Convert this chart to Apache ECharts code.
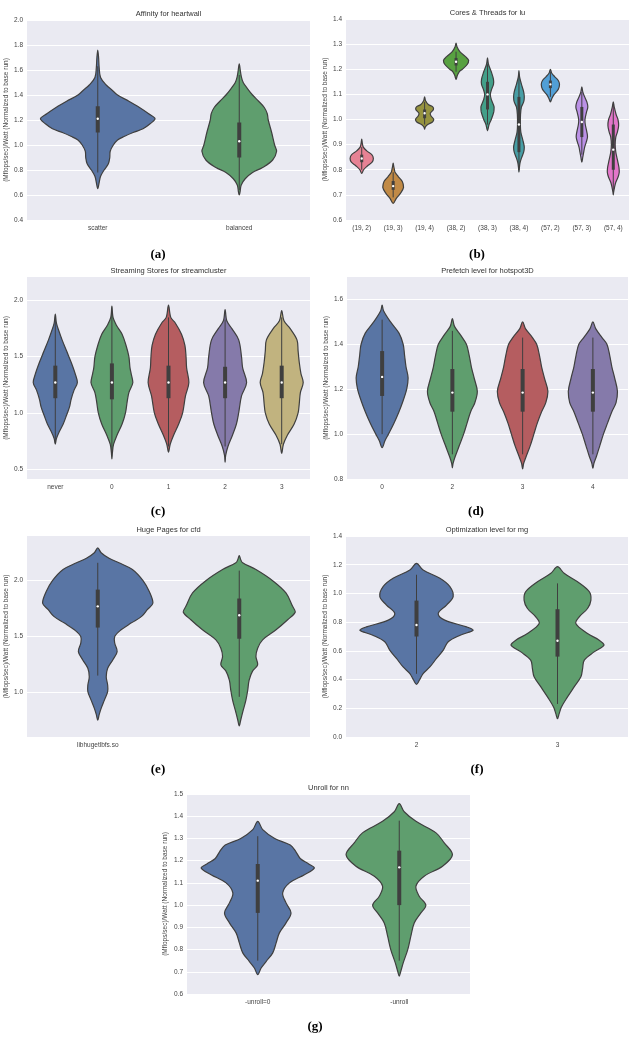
<!DOCTYPE html>
<html><head><meta charset="utf-8">
<script src="https://cdn.jsdelivr.net/npm/echarts@6/dist/echarts.min.js"></script>
<style>html,body{margin:0;padding:0;background:#fff}#c{width:632px;height:1041px}</style>
</head><body><div id="c"></div>
<script>
// ---------- DATA ----------
// profiles: [value, half-width as fraction of category band]; boxes: [whiskerLow, q1, median, q3, whiskerHigh]
const affinityCats = ['scatter', 'balanced'];
const affinityTicks = [0.4, 0.6, 0.8, 1.0, 1.2, 1.4, 1.6, 1.8, 2.0];
const affinityScatter = [[0.65,0],[0.70,0.01],[0.75,0.02],[0.80,0.045],[0.85,0.075],[0.90,0.085],[0.95,0.088],[1.00,0.11],[1.04,0.14],[1.07,0.19],[1.10,0.25],[1.13,0.32],[1.17,0.37],[1.21,0.405],[1.25,0.36],[1.30,0.295],[1.35,0.22],[1.40,0.14],[1.44,0.10],[1.48,0.06],[1.54,0.02],[1.62,0.01],[1.70,0.006],[1.76,0]];
const affinityBalanced = [[0.60,0],[0.62,0.005],[0.68,0.014],[0.73,0.042],[0.78,0.094],[0.82,0.165],[0.88,0.236],[0.95,0.264],[1.00,0.25],[1.10,0.229],[1.20,0.205],[1.25,0.198],[1.30,0.177],[1.35,0.137],[1.40,0.094],[1.45,0.059],[1.50,0.028],[1.55,0.014],[1.60,0.007],[1.65,0]];
const affinityBoxes = [[0.78,1.10,1.21,1.31,1.63],[0.64,0.90,1.03,1.18,1.56]];

const coresCats = ['(19, 2)','(19, 3)','(19, 4)','(38, 2)','(38, 3)','(38, 4)','(57, 2)','(57, 3)','(57, 4)'];
const coresTicks = [0.6, 0.7, 0.8, 0.9, 1.0, 1.1, 1.2, 1.3, 1.4];
const cores19_2 = [[0.785,0],[0.80,0.06],[0.815,0.18],[0.83,0.33],[0.845,0.37],[0.86,0.32],[0.875,0.16],[0.89,0.05],[0.905,0.02],[0.922,0]];
const cores19_3 = [[0.666,0],[0.686,0.1],[0.706,0.23],[0.73,0.33],[0.753,0.29],[0.773,0.16],[0.79,0.06],[0.80,0.04],[0.812,0.02],[0.826,0]];
const cores19_4 = [[0.962,0],[0.97,0.02],[0.98,0.1],[0.99,0.25],[1.0,0.29],[1.015,0.2],[1.025,0.18],[1.04,0.28],[1.05,0.26],[1.06,0.12],[1.075,0.03],[1.09,0]];
const cores38_2 = [[1.16,0],[1.175,0.04],[1.19,0.1],[1.20,0.2],[1.22,0.36],[1.235,0.40],[1.25,0.3],[1.27,0.12],[1.29,0.03],[1.304,0]];
const cores38_3 = [[0.955,0],[0.98,0.05],[1.0,0.12],[1.03,0.2],[1.05,0.21],[1.08,0.12],[1.10,0.09],[1.12,0.13],[1.14,0.19],[1.16,0.19],[1.19,0.12],[1.22,0.03],[1.245,0]];
const cores38_4 = [[0.79,0],[0.81,0.015],[0.83,0.04],[0.85,0.09],[0.87,0.15],[0.89,0.17],[0.92,0.12],[0.95,0.06],[0.98,0.045],[1.02,0.05],[1.05,0.08],[1.07,0.15],[1.09,0.17],[1.11,0.15],[1.14,0.08],[1.17,0.02],[1.195,0]];
const cores57_2 = [[1.07,0],[1.085,0.05],[1.10,0.12],[1.12,0.25],[1.14,0.29],[1.155,0.25],[1.17,0.14],[1.185,0.04],[1.20,0]];
const cores57_3 = [[0.83,0],[0.85,0.03],[0.87,0.06],[0.89,0.09],[0.91,0.14],[0.93,0.18],[0.95,0.16],[0.98,0.11],[1.0,0.1],[1.03,0.15],[1.05,0.19],[1.07,0.16],[1.09,0.09],[1.11,0.03],[1.13,0]];
const cores57_4 = [[0.70,0],[0.71,0.01],[0.73,0.04],[0.75,0.08],[0.77,0.15],[0.79,0.19],[0.81,0.18],[0.84,0.13],[0.87,0.08],[0.90,0.06],[0.93,0.08],[0.95,0.13],[0.975,0.17],[1.0,0.15],[1.02,0.09],[1.05,0.03],[1.07,0]];
const coresBoxes = [[0.80,0.83,0.845,0.86,0.89],[0.69,0.72,0.735,0.755,0.79],[0.98,1.005,1.025,1.04,1.07],[1.19,1.215,1.23,1.245,1.27],[0.98,1.04,1.10,1.15,1.22],[0.80,0.87,0.98,1.09,1.18],[1.09,1.125,1.14,1.155,1.19],[0.86,0.93,0.99,1.05,1.11],[0.72,0.80,0.88,0.98,1.06]];

const streamCats = ['never', '0', '1', '2', '3'];
const streamTicks = [0.5, 1.0, 1.5, 2.0];
const streamNever = [[0.72,0],[0.77,0.02],[0.83,0.07],[0.90,0.14],[0.98,0.20],[1.05,0.25],[1.12,0.28],[1.20,0.33],[1.27,0.39],[1.35,0.35],[1.45,0.28],[1.55,0.20],[1.65,0.12],[1.72,0.07],[1.80,0.02],[1.88,0]];
const stream0 = [[0.59,0],[0.65,0.01],[0.72,0.03],[0.80,0.09],[0.90,0.18],[1.0,0.24],[1.10,0.27],[1.18,0.30],[1.27,0.37],[1.35,0.34],[1.40,0.32],[1.50,0.30],[1.60,0.25],[1.70,0.18],[1.78,0.08],[1.85,0.02],[1.95,0]];
const stream1 = [[0.65,0],[0.72,0.03],[0.80,0.09],[0.90,0.18],[1.0,0.25],[1.15,0.30],[1.27,0.36],[1.40,0.32],[1.50,0.31],[1.60,0.29],[1.70,0.23],[1.80,0.12],[1.85,0.04],[1.96,0]];
const stream2 = [[0.56,0],[0.62,0.01],[0.70,0.05],[0.80,0.13],[0.90,0.20],[1.0,0.24],[1.15,0.29],[1.27,0.38],[1.40,0.31],[1.50,0.29],[1.65,0.24],[1.75,0.12],[1.82,0.03],[1.92,0]];
const stream3 = [[0.64,0],[0.72,0.03],[0.80,0.10],[0.90,0.22],[1.0,0.29],[1.08,0.31],[1.18,0.33],[1.27,0.38],[1.35,0.34],[1.45,0.31],[1.55,0.29],[1.65,0.27],[1.75,0.15],[1.82,0.04],[1.91,0]];
const streamBoxes = [[0.73,1.13,1.27,1.42,1.85],[0.65,1.12,1.27,1.44,1.90],[0.70,1.13,1.27,1.42,1.85],[0.70,1.13,1.27,1.41,1.83],[0.72,1.13,1.27,1.42,1.85]];

const prefetchCats = ['0', '2', '3', '4'];
const prefetchTicks = [0.8, 1.0, 1.2, 1.4, 1.6];
const prefetch0 = [[0.94,0],[0.97,0.04],[1.0,0.09],[1.05,0.17],[1.10,0.24],[1.15,0.30],[1.20,0.35],[1.25,0.37],[1.30,0.34],[1.35,0.32],[1.40,0.30],[1.45,0.24],[1.50,0.12],[1.55,0.02],[1.575,0]];
const prefetch2 = [[0.85,0],[0.87,0.01],[0.90,0.04],[0.95,0.10],[1.0,0.16],[1.05,0.21],[1.10,0.26],[1.14,0.32],[1.19,0.355],[1.25,0.31],[1.30,0.27],[1.35,0.24],[1.40,0.20],[1.44,0.12],[1.48,0.03],[1.515,0]];
const prefetch3 = [[0.845,0],[0.87,0.015],[0.90,0.05],[0.95,0.11],[1.0,0.16],[1.05,0.21],[1.10,0.27],[1.14,0.33],[1.19,0.36],[1.25,0.31],[1.30,0.27],[1.35,0.24],[1.40,0.20],[1.43,0.14],[1.47,0.04],[1.50,0]];
const prefetch4 = [[0.848,0],[0.87,0.015],[0.90,0.05],[0.95,0.10],[1.0,0.15],[1.05,0.21],[1.10,0.27],[1.14,0.33],[1.19,0.35],[1.25,0.31],[1.30,0.27],[1.35,0.24],[1.40,0.20],[1.43,0.13],[1.47,0.04],[1.50,0]];
const prefetchBoxes = [[1.0,1.17,1.255,1.37,1.51],[0.91,1.10,1.185,1.29,1.46],[0.91,1.10,1.185,1.29,1.43],[0.91,1.10,1.185,1.29,1.43]];

const hugeCats = ['libhugetlbfs.so', ''];
const hugeTicks = [1.0, 1.5, 2.0];
const hugeLib = [[0.75,0],[0.80,0.01],[0.856,0.024],[0.93,0.047],[1.006,0.07],[1.066,0.07],[1.14,0.06],[1.215,0.07],[1.29,0.106],[1.365,0.137],[1.44,0.12],[1.50,0.12],[1.56,0.165],[1.62,0.235],[1.68,0.31],[1.74,0.35],[1.80,0.39],[1.90,0.365],[2.0,0.32],[2.10,0.245],[2.16,0.15],[2.20,0.08],[2.25,0.024],[2.293,0]];
const hugeNone = [[0.70,0],[0.75,0.01],[0.84,0.028],[0.93,0.047],[1.02,0.06],[1.11,0.07],[1.19,0.094],[1.245,0.13],[1.32,0.118],[1.395,0.13],[1.47,0.165],[1.56,0.26],[1.65,0.342],[1.72,0.396],[1.77,0.377],[1.89,0.33],[2.0,0.236],[2.10,0.118],[2.16,0.024],[2.19,0.01],[2.225,0]];
const hugeBoxes = [[1.15,1.58,1.77,1.92,2.16],[0.96,1.48,1.69,1.84,2.09]];

const optCats = ['2', '3'];
const optTicks = [0.0, 0.2, 0.4, 0.6, 0.8, 1.0, 1.2, 1.4];
const opt2 = [[0.367,0],[0.395,0.02],[0.442,0.047],[0.488,0.095],[0.547,0.142],[0.605,0.19],[0.663,0.225],[0.709,0.31],[0.744,0.402],[0.767,0.355],[0.814,0.2],[0.86,0.154],[0.919,0.213],[0.977,0.26],[1.047,0.237],[1.105,0.166],[1.163,0.047],[1.209,0]];
const opt3 = [[0.128,0],[0.163,0.012],[0.209,0.028],[0.279,0.071],[0.349,0.118],[0.419,0.166],[0.477,0.178],[0.535,0.19],[0.593,0.26],[0.64,0.33],[0.674,0.296],[0.721,0.213],[0.79,0.13],[0.837,0.154],[0.895,0.213],[0.953,0.237],[1.012,0.225],[1.081,0.142],[1.14,0.047],[1.186,0]];
const optBoxes = [[0.44,0.70,0.78,0.95,1.13],[0.23,0.56,0.67,0.89,1.07]];

const unrollCats = ['-unroll=0', '-unroll'];
const unrollTicks = [0.6, 0.7, 0.8, 0.9, 1.0, 1.1, 1.2, 1.3, 1.4, 1.5];
const unroll0 = [[0.687,0],[0.717,0.024],[0.747,0.06],[0.785,0.106],[0.83,0.13],[0.875,0.153],[0.92,0.2],[0.965,0.235],[1.01,0.2],[1.055,0.176],[1.10,0.224],[1.137,0.33],[1.167,0.40],[1.185,0.36],[1.21,0.30],[1.24,0.27],[1.27,0.23],[1.30,0.12],[1.34,0.035],[1.377,0]];
const unroll1 = [[0.68,0],[0.70,0.01],[0.74,0.028],[0.80,0.06],[0.86,0.082],[0.92,0.106],[0.965,0.153],[1.0,0.188],[1.04,0.141],[1.085,0.118],[1.13,0.176],[1.175,0.306],[1.227,0.376],[1.28,0.318],[1.325,0.26],[1.377,0.118],[1.42,0.035],[1.457,0]];
const unrollBoxes = [[0.75,0.965,1.11,1.185,1.31],[0.75,1.0,1.17,1.245,1.38]];

const yName = '(Mflops/sec)/Watt (Normalized to base run)';

// ---------- STYLE ----------
const deep = ['#4C72B0', '#55A868', '#C44E52', '#8172B2', '#CCB974'];
const husl9 = ['#f77189', '#d58c32', '#a4a031', '#50b131', '#34ae91', '#37abb5', '#3ba3ec', '#bb83f4', '#f564d4'];
function desat(hex, p) {
  let r = parseInt(hex.slice(1,3),16)/255, g = parseInt(hex.slice(3,5),16)/255, b = parseInt(hex.slice(5,7),16)/255;
  const mx = Math.max(r,g,b), mn = Math.min(r,g,b), l = (mx+mn)/2;
  let h = 0, s = 0;
  if (mx !== mn) {
    const d = mx - mn;
    s = l > 0.5 ? d/(2-mx-mn) : d/(mx+mn);
    if (mx === r) h = ((g-b)/d + (g<b?6:0))/6; else if (mx === g) h = ((b-r)/d+2)/6; else h = ((r-g)/d+4)/6;
  }
  s *= p;
  const q = l < 0.5 ? l*(1+s) : l+s-l*s, pp = 2*l-q;
  const f = t => { if (t<0) t+=1; if (t>1) t-=1; if (t<1/6) return pp+(q-pp)*6*t; if (t<1/2) return q; if (t<2/3) return pp+(q-pp)*(2/3-t)*6; return pp; };
  const to = v => Math.round(v*255).toString(16).padStart(2,'0');
  return '#' + to(f(h+1/3)) + to(f(h)) + to(f(h-1/3));
}
const GRAY = '#3f3f3f';
const FONT = '"Liberation Sans", Arial, sans-serif';

const panels = [
  {cats: affinityCats, prof: [affinityScatter, affinityBalanced], box: affinityBoxes, pal: deep, title: 'Affinity for heartwall', tag: '(a)', tagPos: [158, 255],
   grid: {left: 27, top: 20, width: 283, height: 200}, min: 0.4, max: 2.0, ticks: affinityTicks, boxW: 4, nameGap: 16},
  {cats: coresCats, prof: [cores19_2, cores19_3, cores19_4, cores38_2, cores38_3, cores38_4, cores57_2, cores57_3, cores57_4], box: coresBoxes, pal: husl9, title: 'Cores & Threads for lu', tag: '(b)', tagPos: [477, 255],
   grid: {left: 346, top: 19, width: 283, height: 201}, min: 0.6, max: 1.4, ticks: coresTicks, boxW: 3, nameGap: 16},
  {cats: streamCats, prof: [streamNever, stream0, stream1, stream2, stream3], box: streamBoxes, pal: deep, title: 'Streaming Stores for streamcluster', tag: '(c)', tagPos: [158, 512],
   grid: {left: 27, top: 277, width: 283, height: 202}, min: 0.41, max: 2.21, ticks: streamTicks, boxW: 4, nameGap: 16},
  {cats: prefetchCats, prof: [prefetch0, prefetch2, prefetch3, prefetch4], box: prefetchBoxes, pal: deep, title: 'Prefetch level for hotspot3D', tag: '(d)', tagPos: [476, 512],
   grid: {left: 347, top: 277, width: 281, height: 202}, min: 0.8, max: 1.7, ticks: prefetchTicks, boxW: 4, nameGap: 16},
  {cats: hugeCats, prof: [hugeLib, hugeNone], box: hugeBoxes, pal: deep, title: 'Huge Pages for cfd', tag: '(e)', tagPos: [158, 770],
   grid: {left: 27, top: 536, width: 283, height: 201}, min: 0.6, max: 2.4, ticks: hugeTicks, boxW: 4, nameGap: 16},
  {cats: optCats, prof: [opt2, opt3], box: optBoxes, pal: deep, title: 'Optimization level for mg', tag: '(f)', tagPos: [477, 770],
   grid: {left: 346, top: 536, width: 282, height: 201}, min: 0.0, max: 1.4, ticks: optTicks, boxW: 4, nameGap: 16},
  {cats: unrollCats, prof: [unroll0, unroll1], box: unrollBoxes, pal: deep, title: 'Unroll for nn', tag: '(g)', tagPos: [315, 1027],
   grid: {left: 187, top: 794, width: 283, height: 200}, min: 0.6, max: 1.5, ticks: unrollTicks, boxW: 4, nameGap: 18}
];

function makeRender(p) {
  return function (params, api) {
    const i = params.dataIndex;
    const prof = p.prof[i], bx = p.box[i];
    const band = api.coord([1, p.min])[0] - api.coord([0, p.min])[0];
    const cx = api.coord([i, p.min])[0];
    const Y = v => api.coord([i, v])[1];
    const right = prof.map(d => [cx + d[1] * band, Y(d[0])]);
    const left = prof.slice().reverse().map(d => [cx - d[1] * band, Y(d[0])]);
    const pts = right.concat(left.slice(1, -1));
    const fill = desat(p.pal[i % p.pal.length], 0.75);
    return {
      type: 'group',
      children: [
        {type: 'polygon', shape: {points: pts, smooth: 0.35, smoothConstraint: [[Infinity, Infinity], [-Infinity, -Infinity]]},
         style: {fill: fill, stroke: GRAY, lineWidth: 1.2}},
        {type: 'line', shape: {x1: cx, y1: Y(bx[0]), x2: cx, y2: Y(bx[4])},
         style: {stroke: GRAY, lineWidth: 1}},
        {type: 'line', shape: {x1: cx, y1: Y(bx[1]), x2: cx, y2: Y(bx[3])},
         style: {stroke: GRAY, lineWidth: p.boxW}},
        {type: 'circle', shape: {cx: cx, cy: Y(bx[2]), r: 1.2},
         style: {fill: '#ffffff', stroke: null}}
      ]
    };
  };
}

const option = {
  animation: false,
  backgroundColor: '#ffffff',
  grid: panels.map(p => Object.assign({show: true, backgroundColor: '#EAEAF2', borderWidth: 0, containLabel: false}, p.grid)),
  xAxis: panels.map((p, k) => ({
    type: 'category', gridIndex: k, data: p.cats,
    axisLine: {show: false}, axisTick: {show: false}, splitLine: {show: false},
    axisLabel: {interval: 0, fontSize: 6.5, color: '#444', fontFamily: FONT, margin: 5}
  })),
  yAxis: panels.map((p, k) => ({
    type: 'value', gridIndex: k, min: p.min, max: p.max,
    axisLine: {show: false},
    axisTick: {show: false, customValues: p.ticks},
    axisLabel: {customValues: p.ticks, fontSize: 6.5, color: '#444', fontFamily: FONT, margin: 4, formatter: v => v.toFixed(1)},
    splitLine: {show: true, lineStyle: {color: '#ffffff', width: 1}},
    name: yName, nameLocation: 'middle', nameRotate: 90, nameGap: p.nameGap,
    nameTextStyle: {fontSize: 6.5, color: '#444', fontFamily: FONT}
  })),
  series: panels.map((p, k) => ({
    type: 'custom', xAxisIndex: k, yAxisIndex: k, clip: true,
    renderItem: makeRender(p),
    data: p.cats.map((c, i) => [i, p.box[i][2]])
  })),
  graphic: [].concat(
    panels.map(p => ({
      type: 'text', x: p.grid.left + p.grid.width / 2, y: p.grid.top - 6,
      style: {text: p.title, font: '7.5px ' + FONT, fill: '#333', align: 'center', verticalAlign: 'middle'}
    })),
    panels.map(p => ({
      type: 'text', x: p.tagPos[0], y: p.tagPos[1],
      style: {text: p.tag, font: 'bold 13px "Liberation Serif", "Times New Roman", serif', fill: '#000', align: 'center', verticalAlign: 'middle'}
    }))
  )
};

const chart = echarts.init(document.getElementById('c'), null, {renderer: 'canvas'});
chart.setOption(option);
</script>
</body></html>
